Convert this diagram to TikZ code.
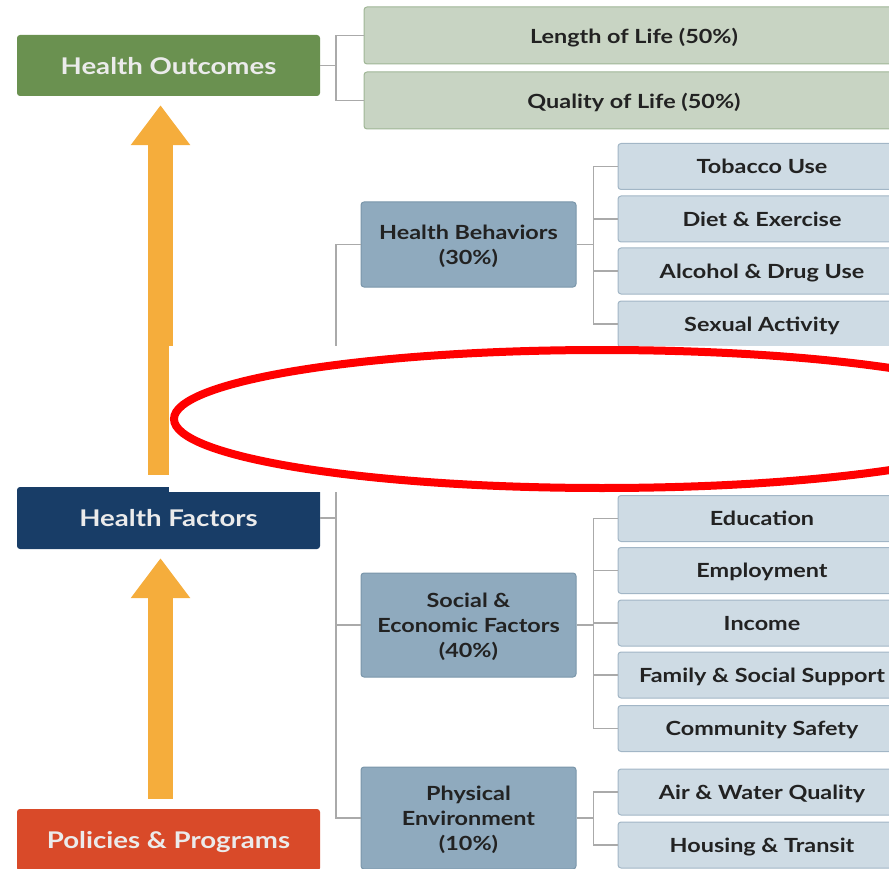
\documentclass[tikz,border=0pt]{standalone}
\usepackage{fontspec}
\setmainfont{Lato}[FakeStretch=1.2]
\usetikzlibrary{arrows.meta,calc,positioning}

\definecolor{hoGreen}{RGB}{106,145,80}
\definecolor{hfNavy}{RGB}{24,61,103}
\definecolor{ppRed}{RGB}{217,74,41}
\definecolor{arrowOrange}{RGB}{245,173,60}
\definecolor{midFill}{RGB}{143,170,190}
\definecolor{midLine}{RGB}{122,150,170}
\definecolor{subFill}{RGB}{206,219,228}
\definecolor{subLine}{RGB}{162,182,198}
\definecolor{outFill}{RGB}{200,212,195}
\definecolor{outLine}{RGB}{160,182,150}
\definecolor{linkGrey}{RGB}{170,170,170}
\definecolor{txtDark}{RGB}{34,34,34}

\begin{document}
\begin{tikzpicture}[x=1pt,y=-1pt,font=\bfseries,
  leftbox/.style={rounded corners=3pt,minimum width=303pt,text=white!92!black,
    text depth=0pt,font=\fontsize{23}{26}\selectfont\bfseries},
  midbox/.style={fill=midFill,draw=midLine,line width=1pt,rounded corners=3pt,
    minimum width=215pt,align=center,text=txtDark,text depth=0pt,
    font=\fontsize{19.5}{25}\selectfont\bfseries},
  subbox/.style={fill=subFill,draw=subLine,line width=1pt,rounded corners=3pt,
    minimum width=288pt,minimum height=46pt,text=txtDark,text depth=0pt,
    font=\fontsize{19.5}{22}\selectfont\bfseries},
  outbox/.style={subbox,fill=outFill,draw=outLine,minimum width=540pt,minimum height=57pt},
  link/.style={draw=linkGrey,line width=1.6pt},
  uparrow/.style={draw=arrowOrange,line width=25pt,
    -{Triangle[length=40pt,width=57pt,fill=arrowOrange]}}]
  \useasboundingbox (0,0) rectangle (889,869);
  \clip (0,0) rectangle (889,869);

  % left column
  \node[leftbox,fill=hoGreen,minimum height=61pt] (ho) at (168.5,65.5) {Health Outcomes};
  \node[leftbox,fill=hfNavy,minimum height=62pt] (hf) at (168.5,518) {Health Factors};
  \node[leftbox,fill=ppRed,minimum height=62pt] (pp) at (168.5,840) {Policies \& Programs};

  \draw[uparrow] ([xshift=-8pt,yshift=12pt]hf.north) -- ([xshift=-8pt,yshift=-9pt]ho.south);
  \draw[uparrow] ([xshift=-8pt,yshift=10pt]pp.north) -- ([xshift=-8pt,yshift=-9pt]hf.south);

  % outcomes
  \node[outbox] (len) at (634,35.5) {Length of Life (50\%)};
  \node[outbox] (qual) at (634,100.5) {Quality of Life (50\%)};
  \draw[link] (ho.east) -- ++(16,0) coordinate (hoj);
  \foreach \n in {len,qual}
    \draw[link] (hoj) |- (\n.west);

  % factors
  \node[midbox,minimum height=85pt] (hb) at (468.5,244.5) {Health Behaviors\\(30\%)};
  \node[midbox,minimum height=104pt] (se) at (468.5,625) {Social \&\\Economic Factors\\(40\%)};
  \node[midbox,minimum height=102pt] (pe) at (468.5,818) {Physical\\Environment\\(10\%)};
  \draw[link] (hf.east) -- ++(16,0) coordinate (hfj);
  \foreach \n in {hb,se,pe}
    \draw[link] (hfj) |- (\n.west);

  % behaviors
  \node[subbox] (tob) at (762,166.5) {Tobacco Use};
  \node[subbox] (diet) at (762,219) {Diet \& Exercise};
  \node[subbox] (alc) at (762,271) {Alcohol \& Drug Use};
  \node[subbox] (sex) at (762,324) {Sexual Activity};
  \draw[link] (hb.east) -- ++(17,0) coordinate (hbj);
  \foreach \n in {tob,diet,alc,sex}
    \draw[link] (hbj) |- (\n.west);

  % social and economic
  \node[subbox] (edu) at (762,518.5) {Education};
  \node[subbox] (emp) at (762,570.5) {Employment};
  \node[subbox] (inc) at (762,623) {Income};
  \node[subbox] (fam) at (762,675) {Family \& Social Support};
  \node[subbox] (com) at (762,728.5) {Community Safety};
  \draw[link] (se.east) -- ++(17,0) coordinate (sej);
  \foreach \n in {edu,emp,inc,fam,com}
    \draw[link] (sej) |- (\n.west);

  % physical environment
  \node[subbox] (air) at (762,792) {Air \& Water Quality};
  \node[subbox] (hou) at (762,845) {Housing \& Transit};
  \draw[link] (pe.east) -- ++(17,0) coordinate (pej);
  \foreach \n in {air,hou}
    \draw[link] (pej) |- (\n.west);

  % covered part
  \fill[white] (169,346) rectangle (889,492);
  \draw[red,line width=8pt] (602,419) ellipse [x radius=428,y radius=69];
\end{tikzpicture}
\end{document}
